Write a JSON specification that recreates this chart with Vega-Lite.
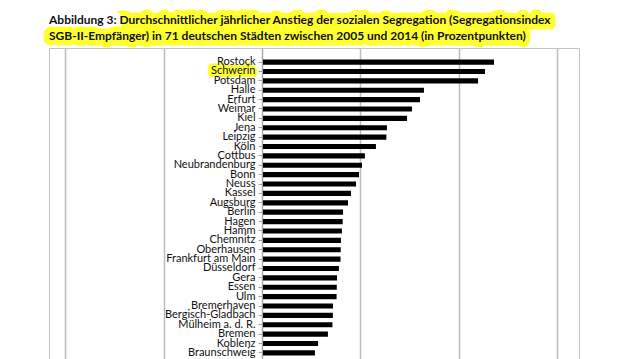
{
  "$schema": "https://vega.github.io/schema/vega-lite/v6.json",
  "padding": {"left": 48, "top": 9, "right": 10, "bottom": 0},
  "bounds": "flush",
  "spacing": 1,
  "background": "white",
  "config": {"view": {"stroke": null}},
  "datasets": {
    "title": [
      {"line": 1, "role": "line", "text": "Abbildung 3: Durchschnittlicher jährlicher Anstieg der sozialen Segregation (Segregationsindex"},
      {"line": 2, "role": "line", "text": "SGB-II-Empfänger) in 71 deutschen Städten zwischen 2005 und 2014 (in Prozentpunkten)"},
      {"line": 1, "role": "mask", "text": "Abbildung 3:"}
    ],
    "bars": [
      {"city": "Rostock", "value": 1.179},
      {"city": "Schwerin", "value": 1.133},
      {"city": "Potsdam", "value": 1.098},
      {"city": "Halle", "value": 0.823},
      {"city": "Erfurt", "value": 0.803},
      {"city": "Weimar", "value": 0.762},
      {"city": "Kiel", "value": 0.737},
      {"city": "Jena", "value": 0.635},
      {"city": "Leipzig", "value": 0.632},
      {"city": "Köln", "value": 0.579},
      {"city": "Cottbus", "value": 0.523},
      {"city": "Neubrandenburg", "value": 0.508},
      {"city": "Bonn", "value": 0.493},
      {"city": "Neuss", "value": 0.478},
      {"city": "Kassel", "value": 0.452},
      {"city": "Augsburg", "value": 0.437},
      {"city": "Berlin", "value": 0.412},
      {"city": "Hagen", "value": 0.410},
      {"city": "Hamm", "value": 0.406},
      {"city": "Chemnitz", "value": 0.401},
      {"city": "Oberhausen", "value": 0.400},
      {"city": "Frankfurt am Main", "value": 0.399},
      {"city": "Düsseldorf", "value": 0.391},
      {"city": "Gera", "value": 0.381},
      {"city": "Essen", "value": 0.380},
      {"city": "Ulm", "value": 0.379},
      {"city": "Bremerhaven", "value": 0.361},
      {"city": "Bergisch-Gladbach", "value": 0.360},
      {"city": "Mülheim a. d. R.", "value": 0.358},
      {"city": "Bremen", "value": 0.335},
      {"city": "Koblenz", "value": 0.285},
      {"city": "Braunschweig", "value": 0.269}
    ]
  },
  "vconcat": [
    {
      "width": 530,
      "height": 38,
      "view": {"stroke": null},
      "data": {"name": "title"},
      "encoding": {
        "y": {"field": "line", "type": "ordinal", "scale": {"type": "point", "padding": 0.6875}, "axis": null},
        "x": {"value": 0},
        "text": {"field": "text"}
      },
      "layer": [
        {
          "transform": [{"filter": "datum.role === 'line' && datum.line === 1"}],
          "mark": {"type": "text", "align": "left", "baseline": "middle", "font": "Lato", "fontWeight": "bold", "fontSize": 12, "fill": "#ffff2e", "stroke": "#ffff2e", "strokeWidth": 11, "strokeJoin": "round", "strokeCap": "round"}
        },
        {
          "transform": [{"filter": "datum.role === 'mask'"}],
          "mark": {"type": "text", "align": "left", "baseline": "middle", "font": "Lato", "fontWeight": "bold", "fontSize": 12, "fill": "white", "stroke": "white", "strokeWidth": 12, "strokeJoin": "round"}
        },
        {
          "transform": [{"filter": "datum.role === 'line' && datum.line === 2"}],
          "mark": {"type": "text", "align": "left", "baseline": "middle", "font": "Lato", "fontWeight": "bold", "fontSize": 12, "fill": "#ffff2e", "stroke": "#ffff2e", "strokeWidth": 11, "strokeJoin": "round", "strokeCap": "round"}
        },
        {
          "transform": [{"filter": "datum.role === 'line'"}],
          "mark": {"type": "text", "align": "left", "baseline": "middle", "font": "Lato", "fontWeight": "bold", "fontSize": 12, "fill": "#111111"}
        }
      ]
    },
    {
      "width": 530,
      "height": 319,
      "view": {"stroke": "#c4c4c4", "strokeWidth": 1},
      "data": {"name": "bars"},
      "encoding": {
        "y": {
          "field": "city", "type": "nominal", "sort": null,
          "scale": {"paddingInner": 0, "paddingOuter": 1.05},
          "axis": {"title": null, "offset": -213, "zindex": 1, "domainColor": "#a6a6a6", "tickColor": "#a6a6a6", "tickSize": 4, "labelFont": "Lato", "labelFontSize": 11, "labelColor": "#111111", "labelPadding": 3, "grid": false}
        }
      },
      "layer": [
        {
          "mark": {"type": "text", "align": "right", "baseline": "middle", "dx": -7, "font": "Lato", "fontSize": 11, "fill": "#ffff2e", "stroke": "#ffff2e", "strokeWidth": 6, "strokeJoin": "round"},
          "encoding": {
            "x": {"datum": 0, "type": "quantitative"},
            "text": {"field": "city"},
            "opacity": {"condition": {"test": "datum.city === 'Schwerin'", "value": 1}, "value": 0}
          }
        },
        {
          "mark": {"type": "bar", "color": "black", "height": {"band": 0.55}},
          "encoding": {
            "x": {
              "field": "value", "type": "quantitative",
              "scale": {"domain": [-1.0823, 1.6108], "nice": false, "zero": false},
              "axis": {"values": [-1, -0.5, 0, 0.5, 1, 1.5], "labels": false, "ticks": false, "domain": false, "title": null, "grid": true, "gridColor": "#bdbdbd", "gridWidth": 1.5, "zindex": 0}
            }
          }
        }
      ]
    }
  ]
}
